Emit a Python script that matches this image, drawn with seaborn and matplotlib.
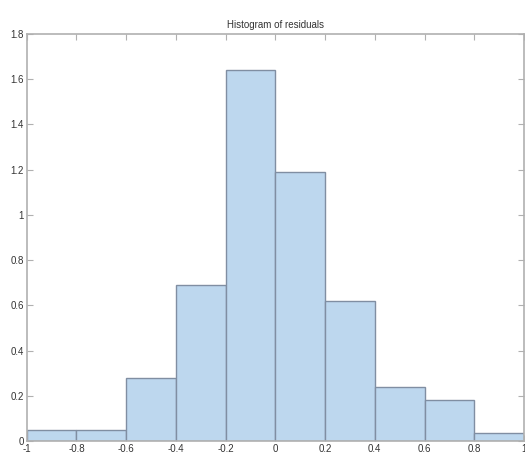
import numpy as np
import pandas as pd
import seaborn as sns
import matplotlib
matplotlib.use('Agg')
import matplotlib.pyplot as plt

# bin edges and heights
bin_edges = [-1.0, -0.8, -0.6, -0.4, -0.2, 0.0, 0.2, 0.4, 0.6, 0.8, 1.0]
heights = [0.05, 0.05, 0.28, 0.69, 1.64, 1.19, 0.62, 0.24, 0.18, 0.035]
centers = [(a + b) / 2 for a, b in zip(bin_edges[:-1], bin_edges[1:])]

df = pd.DataFrame({'residual': centers, 'density': heights})

sns.set_style("white")
plt.rcParams['font.family'] = ['Liberation Sans', 'DejaVu Sans']

fig = plt.figure(figsize=(5.25, 4.57), dpi=100)
ax = fig.add_axes([0.051, 0.035, 0.947, 0.891])

sns.histplot(data=df, x='residual', weights='density', bins=bin_edges,
             stat='count', color='#bdd7ee', alpha=1.0,
             edgecolor='#808ea2', linewidth=1.0, ax=ax)

ax.set_xlim(-1, 1)
ax.set_ylim(0, 1.8)
ax.set_xticks(np.round(np.arange(-1, 1.01, 0.2), 1))
ax.set_xticklabels(['-1', '-0.8', '-0.6', '-0.4', '-0.2', '0', '0.2', '0.4', '0.6', '0.8', '1'])
ax.set_yticks(np.round(np.arange(0, 1.81, 0.2), 1))
ax.set_yticklabels(['0', '0.2', '0.4', '0.6', '0.8', '1', '1.2', '1.4', '1.6', '1.8'])
ax.tick_params(direction='in', length=4, width=0.8, color='#b0b0b0',
               labelsize=7, labelcolor='#333333', top=True, right=True,
               bottom=True, left=True, pad=2)
for s in ax.spines.values():
    s.set_color('#b0b0b0')
    s.set_linewidth(1.2)
ax.set_xlabel('')
ax.set_ylabel('')
ax.set_title('Histogram of residuals', fontsize=7, color='#333333', pad=4)

plt.savefig('out.png', dpi=100)
